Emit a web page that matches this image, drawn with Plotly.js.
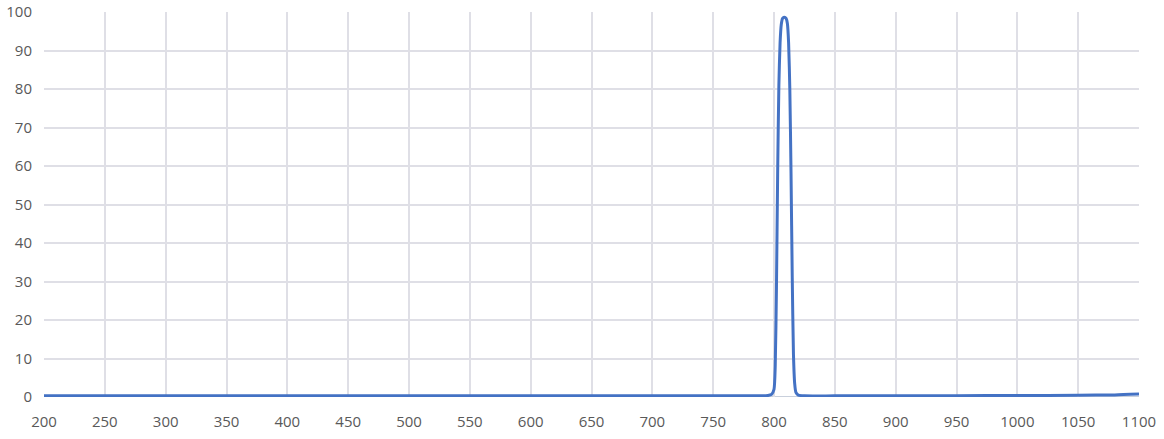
<!DOCTYPE html>
<html>
<head>
<meta charset="utf-8">
<script src="https://cdn.plot.ly/plotly-3.0.1.min.js"></script>
<style>
  html, body { margin: 0; padding: 0; background: #fff; }
  #chart { width: 1164px; height: 439px; }
</style>
</head>
<body>
<div id="chart"></div>
<script>
// wavelength (nm) and transmission (%)
const wavelength = [200, 250, 300, 350, 400, 450, 500, 550, 600, 650, 700, 750, 780, 790, 795, 798, 800, 801, 802, 803, 804, 805, 806, 807, 808, 809, 810, 811, 812, 813, 814, 815, 816, 817, 818, 820, 825, 850, 900, 950, 1000, 1050, 1080, 1100];
const transmission = [0.3, 0.3, 0.3, 0.3, 0.3, 0.3, 0.3, 0.3, 0.3, 0.3, 0.3, 0.3, 0.3, 0.3, 0.4, 0.7, 2, 8, 28, 58, 81, 92, 96.8, 98.3, 98.6, 98.6, 98.3, 97, 92, 80, 58, 31, 11, 3.5, 1.2, 0.5, 0.3, 0.3, 0.3, 0.35, 0.4, 0.45, 0.55, 0.75];

const xTicks = [200, 250, 300, 350, 400, 450, 500, 550, 600, 650, 700, 750, 800, 850, 900, 950, 1000, 1050, 1100];
const yTicks = [0, 10, 20, 30, 40, 50, 60, 70, 80, 90, 100];

const trace = {
  x: wavelength,
  y: transmission,
  type: 'scatter',
  mode: 'lines',
  line: { color: '#4472C4', width: 3, shape: 'spline', smoothing: 0.6 },
  hoverinfo: 'x+y',
};

const layout = {
  width: 1164,
  height: 439,
  margin: { l: 44, r: 25, t: 12, b: 42 },
  paper_bgcolor: '#ffffff',
  plot_bgcolor: '#ffffff',
  showlegend: false,
  font: { family: 'Open Sans, sans-serif', size: 15, color: '#595959' },
  xaxis: {
    range: [200, 1100],
    tickvals: xTicks,
    ticktext: xTicks.map(String),
    showgrid: true,
    gridcolor: '#dfdfe6',
    gridwidth: 2,
    zeroline: false,
    showline: false,
    ticks: '',
    ticklabelstandoff: 14,
  },
  yaxis: {
    range: [0, 100],
    tickvals: yTicks,
    ticktext: yTicks.map(String),
    showgrid: true,
    gridcolor: '#dfdfe6',
    gridwidth: 2,
    zeroline: false,
    showline: false,
    ticks: '',
    ticklabelstandoff: 11,
  },
  shapes: [{
    type: 'line', xref: 'paper', yref: 'y', x0: 0, x1: 1, y0: 0, y1: 0,
    line: { color: '#c9d0dc', width: 2 },
    layer: 'below',
  }],
};

Plotly.newPlot('chart', [trace], layout, { staticPlot: true });
</script>
</body>
</html>
